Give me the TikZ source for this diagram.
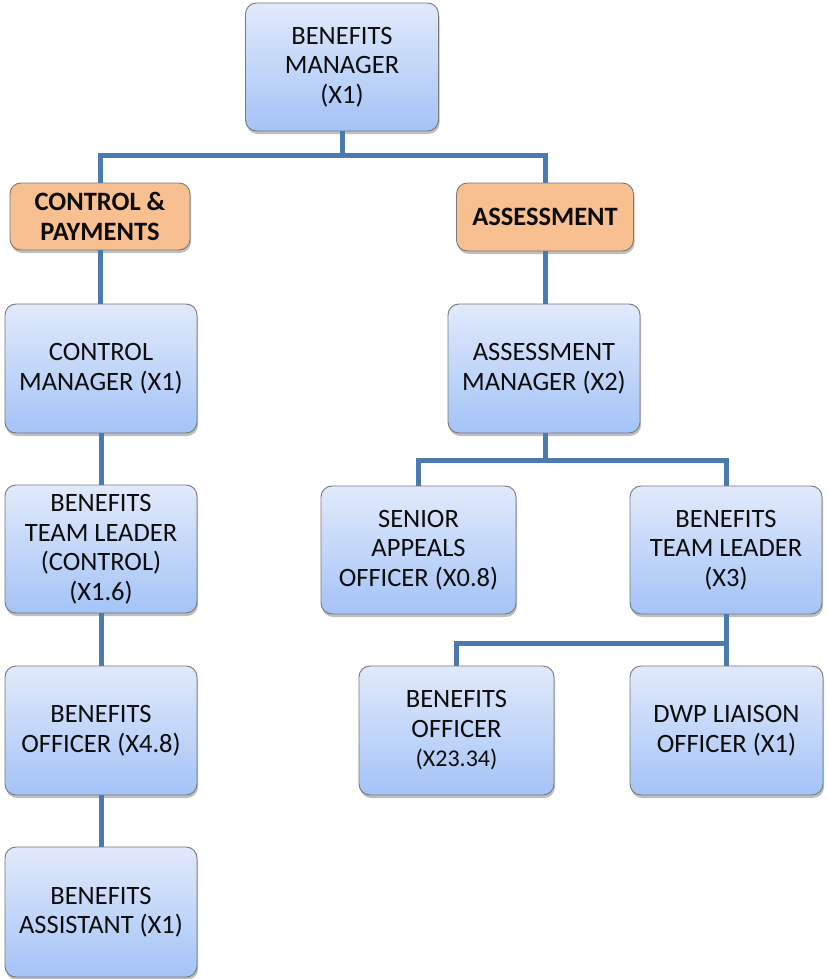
\documentclass[tikz,border=0pt]{standalone}
\usepackage{fontspec}
\setmainfont{Carlito}
\usetikzlibrary{shadows}
\definecolor{lineblue}{RGB}{74,122,176}
\definecolor{boxtop}{RGB}{225,234,251}
\definecolor{boxbot}{RGB}{164,195,247}
\definecolor{orangefill}{RGB}{248,192,145}
\definecolor{edgegray}{RGB}{120,120,120}
\definecolor{txt}{RGB}{13,13,13}
\tikzset{
  base/.style={draw=edgegray, line width=0.9pt, rounded corners=11pt, align=center,
    inner sep=2pt, text=txt, font=\fontsize{26.5}{29.5}\selectfont,
    drop shadow={shadow xshift=1pt, shadow yshift=-3pt, opacity=0.25, fill=black}},
  bluebox/.style={base, top color=boxtop, bottom color=boxbot},
  orangebox/.style={base, fill=orangefill, font=\bfseries\fontsize{26.5}{29.5}\selectfont},
  conn/.style={draw=lineblue, line width=5pt}
}
\begin{document}
\begin{tikzpicture}[x=1pt,y=-1pt]
\useasboundingbox (0,0) rectangle (827,979);
\coordinate (j1) at (342,155);
\coordinate (j2) at (545,460);
\coordinate (j3) at (726,643);
% nodes
\node[bluebox, minimum width=193pt, minimum height=128pt] (bm) at (342,67) {BENEFITS\\MANAGER\\(X1)};
\node[orangebox, minimum width=180pt, minimum height=67pt] (cp) at (100,216.5) {CONTROL \&\\PAYMENTS};
\node[orangebox, minimum width=177pt, minimum height=68pt] (as) at (545,217) {ASSESSMENT};
\node[bluebox, minimum width=192pt, minimum height=129pt] (cm) at (101,368.5) {CONTROL\\MANAGER (X1)};
\node[bluebox, minimum width=192pt, minimum height=129pt] (am) at (544,368.5) {ASSESSMENT\\MANAGER (X2)};
\node[bluebox, minimum width=192pt, minimum height=128pt] (tl) at (101,549) {BENEFITS\\TEAM LEADER\\(CONTROL)\\(X1.6)};
\node[bluebox, minimum width=195pt, minimum height=128pt] (sa) at (418.5,550) {SENIOR\\APPEALS\\OFFICER (X0.8)};
\node[bluebox, minimum width=192pt, minimum height=128pt] (tl3) at (726,550) {BENEFITS\\TEAM LEADER\\(X3)};
\node[bluebox, minimum width=192pt, minimum height=129pt] (bo) at (101,730.5) {BENEFITS\\OFFICER (X4.8)};
\node[bluebox, minimum width=195pt, minimum height=129pt] (bo2) at (456.5,730.5) {BENEFITS\\OFFICER\\{\fontsize{24}{29.5}\selectfont(X23.34)}};
\node[bluebox, minimum width=193pt, minimum height=129pt] (dwp) at (726.5,730.5) {DWP LIAISON\\OFFICER (X1)};
\node[bluebox, minimum width=192pt, minimum height=130pt] (ba) at (101,912) {BENEFITS\\ASSISTANT (X1)};
% connectors
\draw[conn] (bm.south) -- (j1);
\draw[conn] (cp.north) |- (j1) -| (as.north);
\draw[conn] (cp.south) -- (cp.south |- cm.north);
\draw[conn] (as.south) -- (as.south |- am.north);
\draw[conn] (cm.south) -- (cm.south |- tl.north);
\draw[conn] (tl.south) -- (tl.south |- bo.north);
\draw[conn] (bo.south) -- (bo.south |- ba.north);
\draw[conn] (am.south -| j2) -- (j2);
\draw[conn] (sa.north) |- (j2) -| (tl3.north);
\draw[conn] (tl3.south) -- (tl3.south |- dwp.north);
\draw[conn] (bo2.north) |- (j3);
\end{tikzpicture}
\end{document}
